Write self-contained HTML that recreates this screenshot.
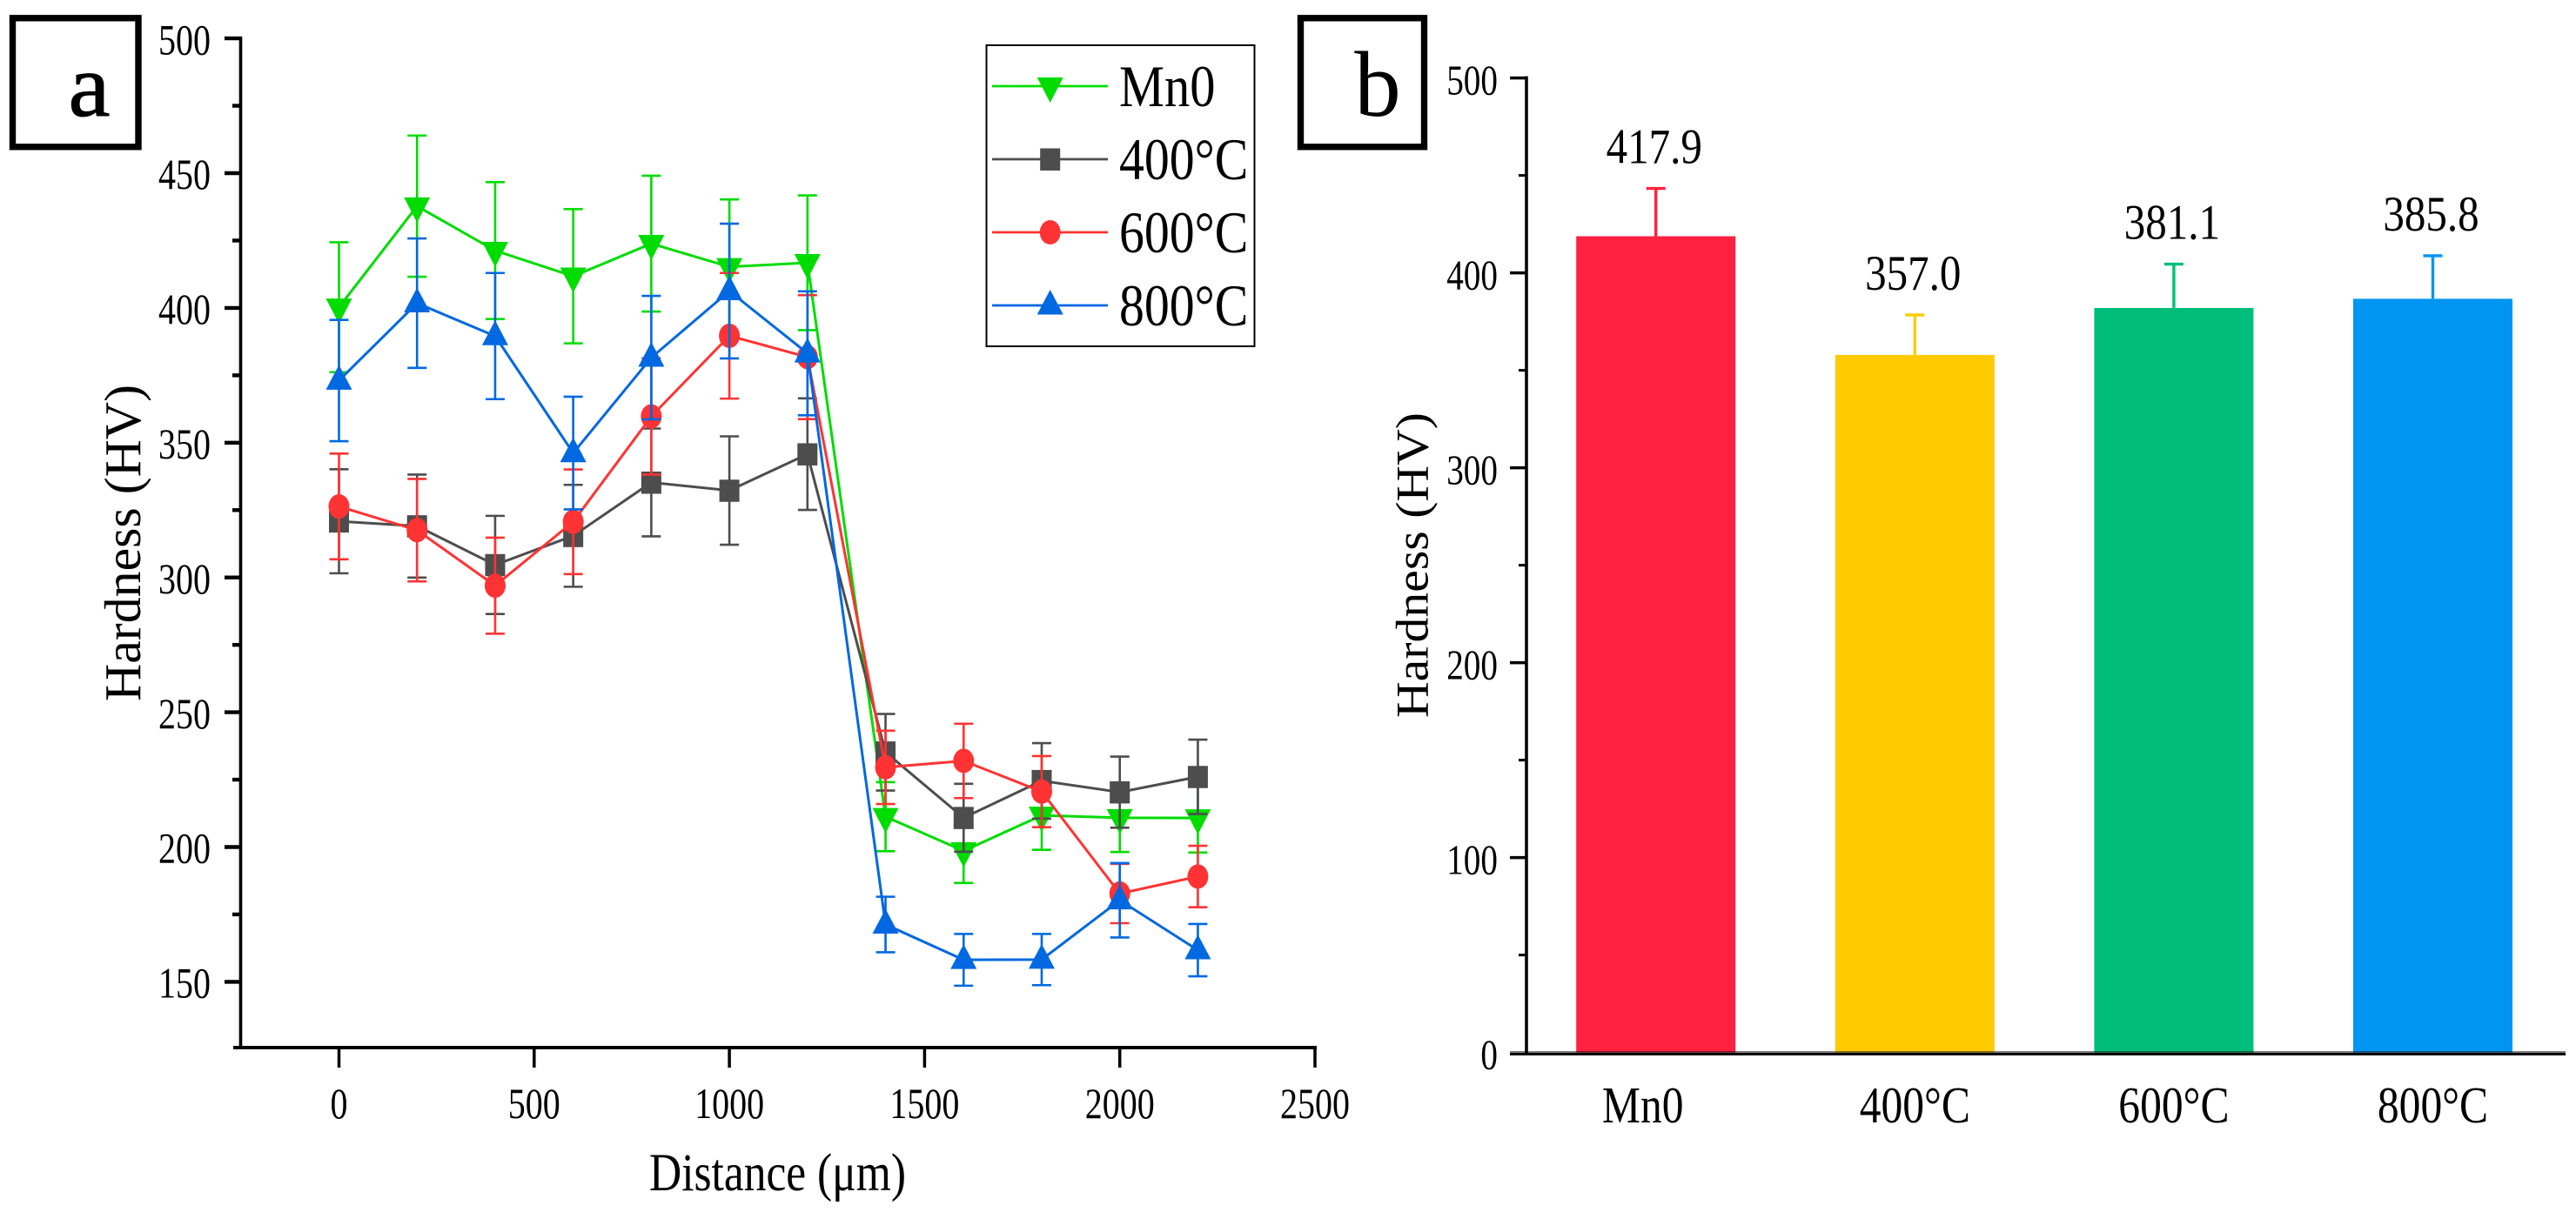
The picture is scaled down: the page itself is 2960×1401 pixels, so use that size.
<!DOCTYPE html>
<html lang="en">
<head>
<meta charset="utf-8">
<title>Hardness charts</title>
<style>
html,body{margin:0;padding:0;background:#fff;width:2960px;height:1401px;overflow:hidden}
svg{display:block}
text{font-family:"Liberation Serif",serif;fill:#000}
</style>
</head>
<body>
<svg id="figure" xmlns="http://www.w3.org/2000/svg" width="2960" height="1401" viewBox="0 0 2960 1401">
  <rect x="0" y="0" width="2960" height="1401" fill="#fff"/>
  <g id="panel-a">
    <rect x="14.5" y="20.8" width="144.5" height="148" fill="#fff" stroke="#000" stroke-width="7.4"/>
    <text transform="translate(102.5,133) scale(1.05,1)" font-size="103" text-anchor="middle" stroke="#000" stroke-width="1">a</text>
    <text transform="translate(161,806) rotate(-90)" font-size="59" textLength="364" lengthAdjust="spacingAndGlyphs">Hardness (HV)</text>
    <text x="746" y="1368" font-size="61" textLength="295" lengthAdjust="spacingAndGlyphs">Distance (μm)</text>
    <rect x="1133.5" y="52" width="308" height="346" fill="#fff" stroke="#000" stroke-width="2"/>
  </g>
  <g id="panel-b">
    <rect x="1494.5" y="20.8" width="142" height="148" fill="#fff" stroke="#000" stroke-width="7.4"/>
    <text x="1583" y="133" font-size="107" text-anchor="middle">b</text>
    <text transform="translate(1640.5,825) rotate(-90)" font-size="53" textLength="351" lengthAdjust="spacingAndGlyphs">Hardness (HV)</text>
  </g>
</svg>
<script>
// ---- Panel a data ----
const distances = [0, 200, 400, 600, 800, 1000, 1200, 1400, 1600, 1800, 2000, 2200];
const seriesNames = ['Mn0', '400°C', '600°C', '800°C'];
const mn0Values = [400, 437.5, 421, 411.5, 423.6, 415, 416.5, 211, 198.3, 211.5, 210.6, 210.5];
const mn0Errors = [24.1, 26.2, 25.4, 24.9, 25.2, 25, 25, 12.8, 11.9, 12.8, 12.7, 12.8];
const t400Values = [320.6, 318.8, 304.4, 315.2, 335, 332, 345.5, 234.9, 210.6, 224.3, 220.1, 225.8];
const t400Errors = [19.3, 19.1, 18.2, 18.9, 20, 20.1, 20.7, 14.2, 12.6, 14, 13.2, 13.8];
const t600Values = [326.1, 317.3, 296.7, 320.4, 359.5, 389.4, 381.5, 229.3, 231.7, 220.3, 182.5, 188.8];
const t600Errors = [19.6, 19, 17.8, 19.4, 21.6, 23.3, 23, 13.6, 13.8, 13.2, 11, 11.4];
const t800Values = [372.8, 401.5, 389.3, 345.9, 381.3, 406, 382.9, 171, 157.9, 158, 180, 161.5];
const t800Errors = [22.5, 24, 23.4, 20.9, 22.9, 25, 23, 10.3, 9.6, 9.5, 13.8, 9.7];
const xTicksA = [0, 500, 1000, 1500, 2000, 2500];
const yTicksA = [150, 200, 250, 300, 350, 400, 450, 500];
const yMinorTicksA = [175, 225, 275, 325, 375, 425, 475];

// ---- Panel b data ----
const barCategories = ['Mn0', '400°C', '600°C', '800°C'];
const barValues = [417.9, 357.0, 381.1, 385.8];
const barErrors = [25.4, 21.4, 23.4, 23];
const barValueLabels = ['417.9', '357.0', '381.1', '385.8'];
const yTicksB = [0, 100, 200, 300, 400, 500];
const yMinorTicksB = [50, 150, 250, 350, 450];

// ---- Scales ----
function xA(v) { return 389.5 + v * 0.44860; }
function yA(v) { return 43.3 + (500 - v) * 3.098; }
function yB(v) { return 1209.6 - v * 2.24; }
function xB(i) { return 1902.7 + i * 297.6; }

const NS = 'http://www.w3.org/2000/svg';
const panelA = document.getElementById('panel-a');
const panelB = document.getElementById('panel-b');

function make(parent, tag, attrs) {
  const el = document.createElementNS(NS, tag);
  for (const k in attrs) el.setAttribute(k, attrs[k]);
  parent.appendChild(el);
  return el;
}
function label(parent, str, x, y, size, sx, anchor) {
  const t = make(parent, 'text', {
    transform: 'translate(' + x + ',' + y + ') scale(' + sx + ',1)',
    'font-size': size,
    'text-anchor': anchor
  });
  t.textContent = str;
  return t;
}
function marker(parent, shape, cx, cy, color) {
  if (shape === 'square') {
    return make(parent, 'rect', { x: cx - 11.5, y: cy - 12.5, width: 23, height: 25.5, fill: color });
  }
  if (shape === 'circle') {
    return make(parent, 'ellipse', { cx: cx, cy: cy, rx: 12, ry: 14, fill: color });
  }
  if (shape === 'down') {
    return make(parent, 'polygon', {
      points: (cx - 15) + ',' + (cy - 10) + ' ' + (cx + 15) + ',' + (cy - 10) + ' ' + cx + ',' + (cy + 19),
      fill: color
    });
  }
  return make(parent, 'polygon', {
    points: (cx - 15) + ',' + (cy + 10.5) + ' ' + (cx + 15) + ',' + (cy + 10.5) + ' ' + cx + ',' + (cy - 18),
    fill: color
  });
}

// ---- Panel a axes ----
const axesA = make(panelA, 'g', {});


const yAxisA = make(axesA, 'line', { x1: 276.5, x2: 276.5, y1: yA(500) - 1, y2: yA(125), stroke: '#000', 'stroke-width': 3.6 });


const xAxisA = make(axesA, 'line', { x1: 268, x2: xA(2500) + 2, y1: 1204, y2: 1204, stroke: '#000', 'stroke-width': 4 });



yTicksA.forEach(function (v) {
  const tick = make(axesA, 'line', { x1: 258, x2: 278, y1: yA(v) + 0.8, y2: yA(v) + 0.8, stroke: '#000', 'stroke-width': 4.4 });
  
  
  const t = label(axesA, String(v), 242, yA(v) + 19, 50, 0.8, 'end');
  
  
});
yMinorTicksA.forEach(function (v) {
  const tick = make(axesA, 'line', { x1: 267, x2: 276.5, y1: yA(v) + 0.8, y2: yA(v) + 0.8, stroke: '#000', 'stroke-width': 4.4 });
  
  
});
xTicksA.forEach(function (v) {
  const tick = make(axesA, 'line', { x1: xA(v), x2: xA(v), y1: 1204, y2: 1227, stroke: '#000', 'stroke-width': 3.5 });
  
  
  const t = label(axesA, String(v), xA(v), 1285, 50, 0.8, 'middle');
  
  
});

// ---- Panel a series ----
const seriesValues = [mn0Values, t400Values, t600Values, t800Values];
const seriesErrors = [mn0Errors, t400Errors, t600Errors, t800Errors];
const seriesColors = ['#00dc00', '#4d4d4d', '#ff3333', '#0068e0'];
const seriesShapes = ['down', 'square', 'circle', 'up'];

seriesValues.forEach(function (vals, s) {
  const color = seriesColors[s];
  const g = make(panelA, 'g', {});
  
  
  const pts = vals.map(function (v, i) { return xA(distances[i]) + ',' + yA(v); }).join(' ');
  const line = make(g, 'polyline', { points: pts, fill: 'none', stroke: color, 'stroke-width': 3 });
  
  
  vals.forEach(function (v, i) {
    const x = xA(distances[i]);
    const e = seriesErrors[s][i];
    const eb = make(g, 'path', {
      d: 'M' + x + ' ' + yA(v + e) + 'V' + yA(v - e) +
         'M' + (x - 11) + ' ' + yA(v + e) + 'H' + (x + 11) +
         'M' + (x - 11) + ' ' + yA(v - e) + 'H' + (x + 11),
      fill: 'none', stroke: color, 'stroke-width': 2.6
    });
    
    
    const m = marker(g, seriesShapes[s], x, yA(v), color);
    
    
  });
});

// ---- Legend ----
const legendRows = make(panelA, 'g', {});


seriesNames.forEach(function (name, s) {
  const rowY = 99 + s * 84;
  const sw = make(legendRows, 'line', { x1: 1140, x2: 1273, y1: rowY, y2: rowY, stroke: seriesColors[s], 'stroke-width': 2.8 });
  
  
  const m = marker(legendRows, seriesShapes[s], 1206.7, rowY, seriesColors[s]);
  
  
  const t = label(legendRows, name, 1286, rowY + 23, 68, s === 0 ? 0.86 : 0.85, 'start');
  
  
});

// ---- Panel b ----
const barColors = ['#ff213f', '#ffcb00', '#00be7a', '#0095f0'];
const barsGroup = make(panelB, 'g', {});



barValues.forEach(function (v, i) {
  const cx = xB(i);
  const bar = make(barsGroup, 'rect', { x: cx - 91.5, y: yB(v) - 2, width: 183, height: yB(0) - yB(v) + 2, fill: barColors[i] });
  
  
  const top = yB(v + barErrors[i]);
  const eb = make(barsGroup, 'path', {
    d: 'M' + cx + ' ' + (yB(v) - 2) + 'V' + top + 'M' + (cx - 11) + ' ' + top + 'H' + (cx + 11),
    fill: 'none', stroke: barColors[i], 'stroke-width': 3.4
  });
  
  
  const t = label(barsGroup, barValueLabels[i], cx - 2, top - 29, 57, 0.86, 'middle');
  
  
  const c = label(barsGroup, barCategories[i], cx + (i === 0 ? -15 : 0), 1290, 59, 0.84, 'middle');
  
  
});

const axesB = make(panelB, 'g', {});


const xAxisGray = make(axesB, 'line', { x1: 1735, x2: 2948, y1: 1209, y2: 1209, stroke: '#000', 'stroke-width': 2, 'stroke-opacity': 0.5 });


const xAxisB = make(axesB, 'line', { x1: 1735, x2: 2948, y1: 1211.5, y2: 1211.5, stroke: '#000', 'stroke-width': 3 });


const yAxisB = make(axesB, 'line', { x1: 1754, x2: 1754, y1: yB(500) - 2, y2: 1213, stroke: '#000', 'stroke-width': 3.6 });


yTicksB.forEach(function (v) {
  if (v !== 0) {
    const tick = make(axesB, 'line', { x1: 1735, x2: 1754, y1: yB(v), y2: yB(v), stroke: '#000', 'stroke-width': 3.5 });
    
    
  }
  const t = label(axesB, String(v), 1721, yB(v) + 19, 49, 0.8, 'end');
  
  
});
yMinorTicksB.forEach(function (v) {
  const tick = make(axesB, 'line', { x1: 1745, x2: 1754, y1: yB(v), y2: yB(v), stroke: '#000', 'stroke-width': 3 });
  
  
});
</script>
</body>
</html>
